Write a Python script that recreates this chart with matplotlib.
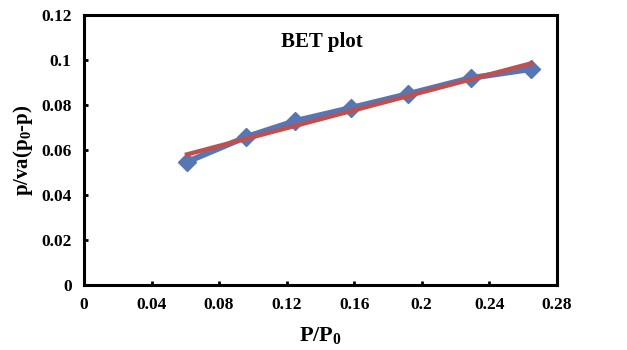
import numpy as np
import matplotlib
matplotlib.use("Agg")
from matplotlib import pyplot as plt

# values
p_rel = [0.061, 0.096, 0.125, 0.158, 0.192, 0.229, 0.265]
bet_y = [0.0547, 0.0658, 0.0729, 0.0787, 0.0849, 0.0920, 0.0960]
x_ticks = [0, 0.04, 0.08, 0.12, 0.16, 0.2, 0.24, 0.28]
y_ticks = [0, 0.02, 0.04, 0.06, 0.08, 0.1, 0.12]

plt.rcParams["font.family"] = ["Liberation Serif", "DejaVu Serif"]
plt.rcParams["font.weight"] = "bold"
plt.rcParams["mathtext.fontset"] = "custom"
plt.rcParams["mathtext.rm"] = "Liberation Serif:bold"
plt.rcParams["mathtext.bf"] = "Liberation Serif:bold"
plt.rcParams["mathtext.it"] = "Liberation Serif:bold"
plt.rcParams["mathtext.default"] = "bf"

fig = plt.figure(figsize=(6.27, 3.5), dpi=100)
ax = fig.add_axes([0.134, 0.186, 0.754, 0.771])

ax.plot(p_rel, bet_y, color="#5876B4", lw=4.2, marker="D", ms=9,
        markeredgecolor="#5876B4", zorder=2)

# linear trendline
k, b = np.polyfit(p_rel, bet_y, 1)
xf = np.array([p_rel[0], p_rel[-1]])
ax.plot(xf, k * xf + b, color="#C0504D", lw=3.2, zorder=3)

ax.set_xlim(0, 0.28)
ax.set_ylim(0, 0.12)
ax.set_xticks(x_ticks, labels=[("%g" % t) for t in x_ticks])
ax.set_yticks(y_ticks, labels=[("%g" % t) for t in y_ticks])
ax.tick_params(direction="in", length=3, width=2, labelsize=12.5, pad=9)
for lab in ax.get_xticklabels() + ax.get_yticklabels():
    lab.set_fontweight("bold")
for s in ax.spines.values():
    s.set_linewidth(2.2)

ax.set_xlabel("P/P$_0$", fontsize=16, fontweight="bold", labelpad=8)
ax.set_ylabel("p/va(p$_0$-p)", fontsize=15, fontweight="bold", labelpad=4)
ax.text(0.503, 0.9, "BET plot", transform=ax.transAxes, fontsize=15,
        fontweight="bold", ha="center", va="center")

fig.savefig("out.png", dpi=100)
